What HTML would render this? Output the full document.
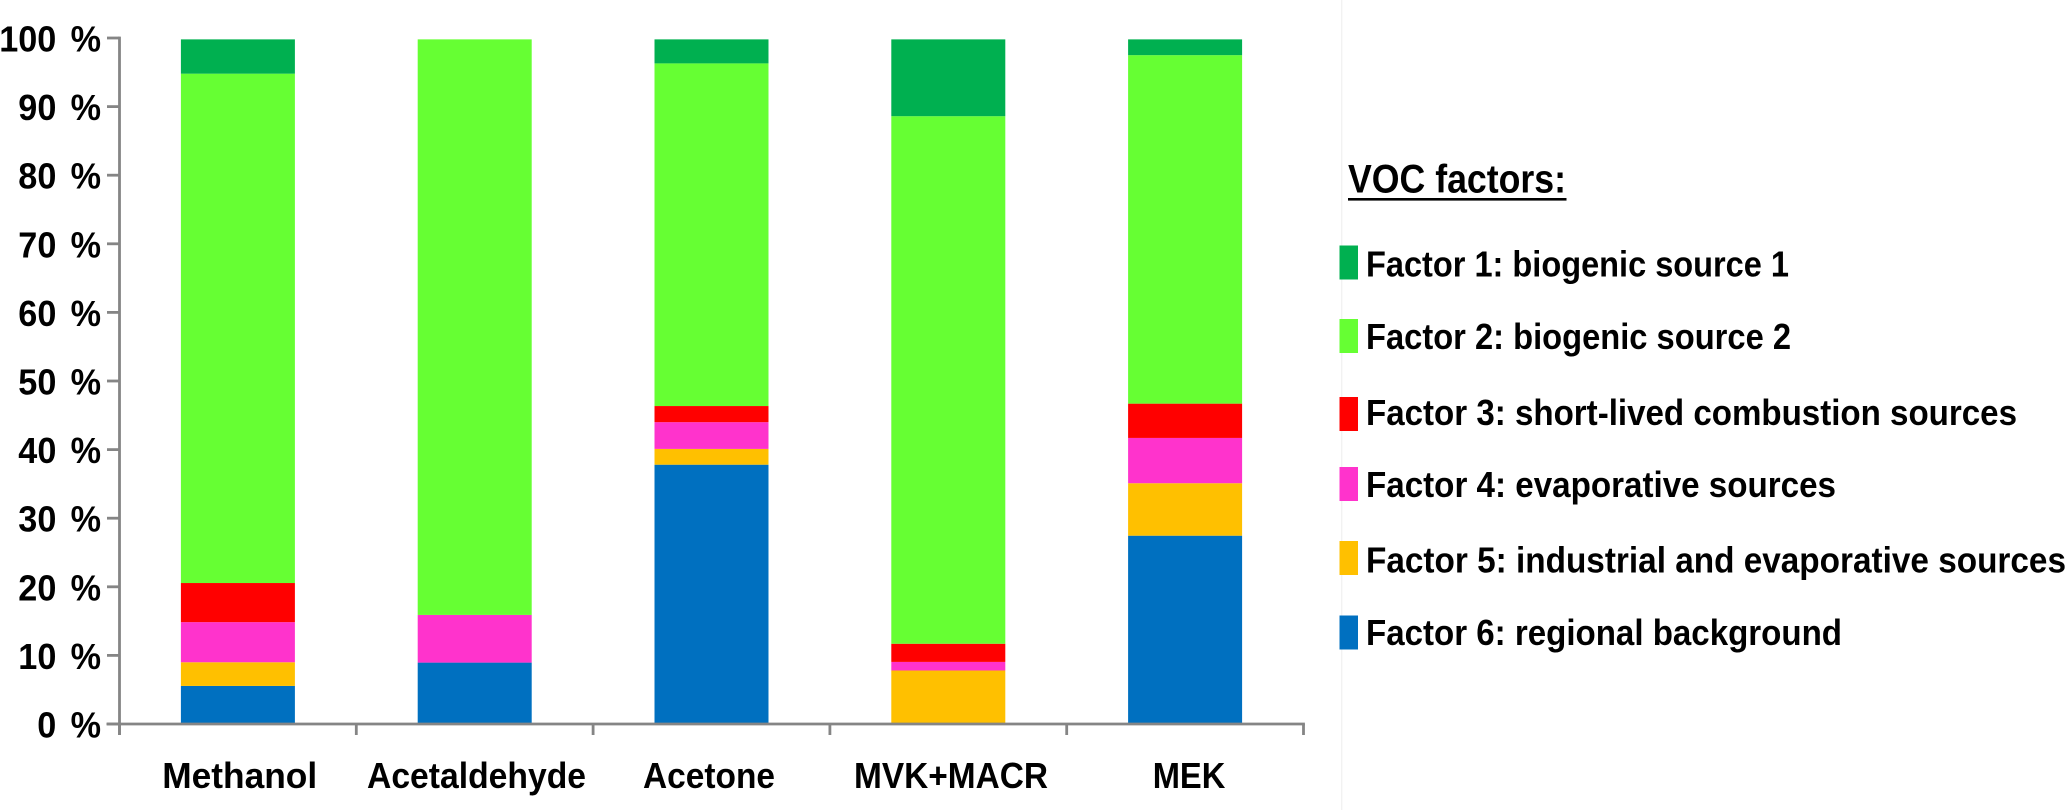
<!DOCTYPE html>
<html lang="en">
<head>
<meta charset="utf-8">
<title>VOC factors stacked bar chart</title>
<style>
html,body{margin:0;padding:0;background:#fff;width:2067px;height:810px;overflow:hidden}
svg{display:block}
text{font-family:"Liberation Sans",Arial,sans-serif;font-weight:bold;fill:#000}
</style>
</head>
<body>
<svg id="chart" xmlns="http://www.w3.org/2000/svg" width="2067" height="810" viewBox="0 0 2067 810">
  <rect x="0" y="0" width="2067" height="810" fill="#ffffff"/>
  <line x1="1341.7" y1="0" x2="1341.7" y2="810" stroke="#f0f0f0" stroke-width="1.2"/>
  <g id="bars"></g>
  <g id="axes"></g>
  <g>
    <text x="1348" y="192.5" font-size="40" textLength="218" lengthAdjust="spacingAndGlyphs">VOC factors:</text>
    <rect x="1348" y="198" width="218.5" height="2.6" fill="#000"/>

    <rect x="1339.5" y="245.5" width="18.5" height="34" fill="#00B050"/>
    <text x="1366" y="276.5" font-size="36" textLength="423" lengthAdjust="spacingAndGlyphs">Factor 1: biogenic source 1</text>

    <rect x="1339.5" y="319" width="18.5" height="34" fill="#66FF33"/>
    <text x="1366" y="349" font-size="36" textLength="425" lengthAdjust="spacingAndGlyphs">Factor 2: biogenic source 2</text>

    <rect x="1339.5" y="397" width="18.5" height="34" fill="#FF0000"/>
    <text x="1366" y="425" font-size="36" textLength="651" lengthAdjust="spacingAndGlyphs">Factor 3: short-lived combustion sources</text>

    <rect x="1339.5" y="467" width="18.5" height="34" fill="#FF33CC"/>
    <text x="1366" y="497" font-size="36" textLength="470" lengthAdjust="spacingAndGlyphs">Factor 4: evaporative sources</text>

    <rect x="1339.5" y="541" width="18.5" height="34" fill="#FFC000"/>
    <text x="1366" y="572.5" font-size="36" textLength="700" lengthAdjust="spacingAndGlyphs">Factor 5: industrial and evaporative sources</text>

    <rect x="1339.5" y="615.5" width="18.5" height="34" fill="#0070C0"/>
    <text x="1366" y="645" font-size="36" textLength="476" lengthAdjust="spacingAndGlyphs">Factor 6: regional background</text>
  </g>
</svg>
<script>
const categories = ["Methanol", "Acetaldehyde", "Acetone", "MVK+MACR", "MEK"];
const yTicks = [0, 10, 20, 30, 40, 50, 60, 70, 80, 90, 100];
const factor6 = [5.55, 8.95, 37.8, 0, 27.45];
const factor5 = [3.45, 0, 2.3, 7.8, 7.65];
const factor4 = [5.85, 6.95, 3.9, 1.25, 6.6];
const factor3 = [5.7, 0, 2.35, 2.65, 5.0];
const factor2 = [74.25, 83.9, 49.95, 76.9, 50.8];
const factor1 = [5.0, 0, 3.5, 11.2, 2.3];

const stackOrder = [factor6, factor5, factor4, factor3, factor2, factor1];
const stackColors = ["#0070C0", "#FFC000", "#FF33CC", "#FF0000", "#66FF33", "#00B050"];
const stackNames = ["factor-6", "factor-5", "factor-4", "factor-3", "factor-2", "factor-1"];

const NS = "http://www.w3.org/2000/svg";
const plotLeft = 119.5, plotRight = 1303.5, plotBottom = 724, pxPerUnit = 6.86;
const bandWidth = (plotRight - plotLeft) / categories.length;
const barWidth = 114;
const axisColor = "#858585";
const axisWidth = 2.8;
/* text-fit layout for the category labels (not data) */
const labelFit = {
  "Methanol": { nudge: 1.8, width: 155 },
  "Acetaldehyde": { nudge: 1.8, width: 219 },
  "Acetone": { nudge: -2.5, width: 132 },
  "MVK+MACR": { nudge: 2.7, width: 194 },
  "MEK": { nudge: 3.9, width: 72.6 }
};

function yScale(v) { return plotBottom - v * pxPerUnit; }
function xBand(i) { return plotLeft + i * bandWidth; }
function xCenter(i) { return xBand(i) + bandWidth / 2; }
function slug(s) { return s.toLowerCase().replace(/[^a-z0-9]+/g, "-"); }

function drawLine(parent, x1, y1, x2, y2, width) {
  const l = document.createElementNS(NS, "line");
  l.setAttribute("x1", x1);
  l.setAttribute("y1", y1);
  l.setAttribute("x2", x2);
  l.setAttribute("y2", y2);
  l.setAttribute("stroke", axisColor);
  l.setAttribute("stroke-width", width);
  parent.appendChild(l);
  return l;
}

const barsGroup = document.getElementById("bars");
categories.forEach(function (cat, i) {
  let cumulative = 0;
  stackOrder.forEach(function (series, s) {
    const v = series[i];
    const rect = document.createElementNS(NS, "rect");
    rect.setAttribute("x", xCenter(i) - barWidth / 2);
    rect.setAttribute("y", yScale(cumulative + v));
    rect.setAttribute("width", barWidth);
    rect.setAttribute("height", v * pxPerUnit);
    rect.setAttribute("fill", stackColors[s]);
    
    
    barsGroup.appendChild(rect);
    cumulative += v;
  });
});

const axesGroup = document.getElementById("axes");

const yAxis = drawLine(axesGroup, plotLeft, yScale(100) - 1.4, plotLeft, plotBottom + 11, axisWidth);



const xAxis = drawLine(axesGroup, 106.5, plotBottom, plotRight + 1.4, plotBottom, axisWidth);



yTicks.forEach(function (t) {
  const y = yScale(t);
  const tick = drawLine(axesGroup, 107, y, plotLeft, y, axisWidth);
  
  

  const label = document.createElementNS(NS, "text");
  label.setAttribute("x", 0);
  label.setAttribute("y", 0);
  label.setAttribute("transform", "translate(101," + (y + 13.5) + ") scale(0.95,1)");
  label.setAttribute("text-anchor", "end");
  label.setAttribute("font-size", "36");
  label.setAttribute("word-spacing", "5");
  label.textContent = t + " %";
  
  
  axesGroup.appendChild(label);
});

for (let i = 0; i <= categories.length; i++) {
  const x = xBand(i);
  const tick = drawLine(axesGroup, x, plotBottom, x, plotBottom + 11, axisWidth);
  
  
}

categories.forEach(function (cat, i) {
  const fit = labelFit[cat];
  const label = document.createElementNS(NS, "text");
  label.setAttribute("x", xCenter(i) + fit.nudge);
  label.setAttribute("y", 788);
  label.setAttribute("text-anchor", "middle");
  label.setAttribute("font-size", "36");
  label.setAttribute("textLength", fit.width);
  label.setAttribute("lengthAdjust", "spacingAndGlyphs");
  label.textContent = cat;
  
  
  axesGroup.appendChild(label);
});
</script>
</body>
</html>
